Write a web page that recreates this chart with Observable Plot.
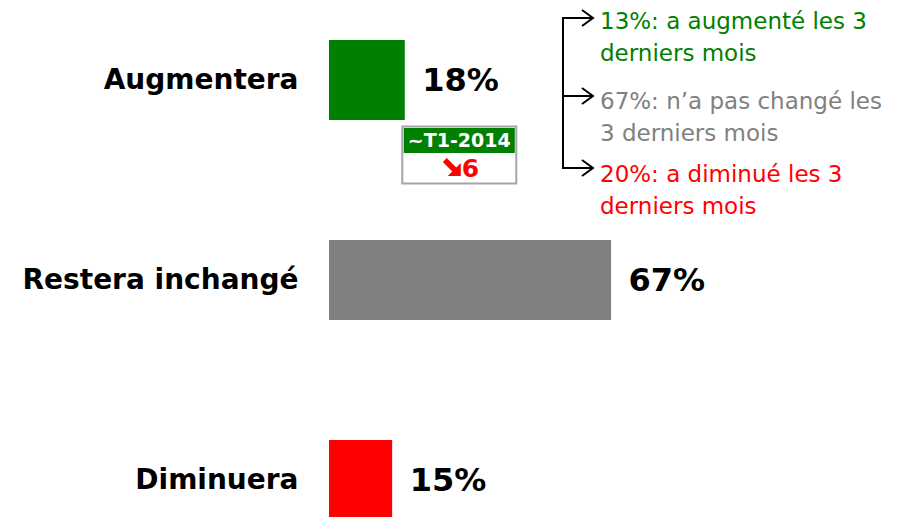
<!DOCTYPE html>
<html><head><meta charset="utf-8">
<script src="https://cdn.jsdelivr.net/npm/d3@7"></script>
<script src="https://cdn.jsdelivr.net/npm/@observablehq/plot@0.6"></script>
<style>
html,body{margin:0;padding:0;background:#fff;}
svg{display:block;}
</style>
</head><body>
<div id="chart"></div>
<script>
const categories = ["Augmentera", "Restera inchangé", "Diminuera"];
const values = [18, 67, 15];
const colors = ["#008000", "#808080", "#ff0000"];

const prevValues = [13, 67, 20];
const prevTexts = [["a augmenté les 3", "derniers mois"], ["n’a pas changé les", "3 derniers mois"], ["a diminué les 3", "derniers mois"]];

const badgeLabel = "~T1-2014";
const badgeChange = "6";

const data = categories.map((c, i) => ({cat: c, value: values[i], color: colors[i]}));
const FONT = "DejaVu Sans";

const plot = Plot.plot({
  width: 900,
  height: 517,
  marginLeft: 329,
  marginRight: 150,
  marginTop: 0,
  marginBottom: 0,
  style: {fontFamily: FONT, background: "white", overflow: "hidden"},
  x: {domain: [0, 100], axis: null},
  y: {domain: categories, range: [-20, 580], paddingInner: 0.6, paddingOuter: 0.3, align: 0.5, axis: null},
  marks: [
    Plot.barX(data, {x: "value", y: "cat", fill: "color"}),
    Plot.text(data, {x: 0, y: "cat", text: "cat", textAnchor: "end", dx: -31, fontSize: 28, fontWeight: "bold", fill: "black"}),
    Plot.text(data, {x: "value", y: "cat", text: d => d.value + "%", textAnchor: "start", dx: 17, fontSize: 32, fontWeight: "bold", fill: "black"})
  ]
});
document.getElementById("chart").appendChild(plot);

// annotations
const svg = d3.select(plot);
const xs = plot.scale("x"), ys = plot.scale("y");
const bx0 = xs.apply(values[0]) - 3;
const by0 = ys.apply(categories[0]) + ys.bandwidth + 6;
const bw = 114, bh = 57;
const g = svg.append("g").attr("font-family", FONT).attr("text-anchor", "start");
g.append("rect").attr("x", bx0 + 0.5).attr("y", by0 + 0.5).attr("width", bw).attr("height", bh)
  .attr("fill", "white").attr("stroke", "#a6a6a6").attr("stroke-width", 2);
g.append("rect").attr("x", bx0 + 2).attr("y", by0 + 2).attr("width", bw - 3).attr("height", 25).attr("fill", "#008000");
g.append("text").attr("x", bx0 + bw / 2 + 0.5).attr("y", by0 + 21).attr("text-anchor", "middle")
  .attr("font-size", 19).attr("font-weight", "bold").attr("fill", "white").text(badgeLabel);
// heavy south-east arrow + change value
const ax = bx0 + 41, ay = by0 + 32;
g.append("line").attr("x1", ax + 2).attr("y1", ay + 2).attr("x2", ax + 13).attr("y2", ay + 13)
  .attr("stroke", "#ff0000").attr("stroke-width", 5.5);
g.append("path").attr("d", `M${ax + 18},${ay + 5}L${ax + 18},${ay + 18}L${ax + 5},${ay + 18}Z`).attr("fill", "#ff0000");
g.append("text").attr("x", ax + 19).attr("y", by0 + 51)
  .attr("font-size", 25).attr("font-weight", "bold").attr("fill", "#ff0000").text(badgeChange);

// bracket notes
const noteX = 600, lineH = 32;
const noteBase = [29, 109, 182];
const arrowY = [18, 96, 168];
const bracketX = 563, tipX = 593;
g.append("line").attr("x1", bracketX).attr("x2", bracketX).attr("y1", arrowY[0] - 1).attr("y2", arrowY[2] + 1)
  .attr("stroke", "black").attr("stroke-width", 2);
arrowY.forEach(y => {
  g.append("line").attr("x1", bracketX - 1).attr("x2", tipX).attr("y1", y).attr("y2", y).attr("stroke", "black").attr("stroke-width", 2);
  g.append("path").attr("d", `M${tipX - 11},${y - 8}L${tipX},${y}L${tipX - 11},${y + 8}`).attr("fill", "none").attr("stroke", "black").attr("stroke-width", 2);
});
prevValues.forEach((v, i) => {
  prevTexts[i].forEach((t, j) => {
    g.append("text").attr("x", noteX).attr("y", noteBase[i] + j * lineH)
      .attr("font-size", 23).attr("fill", colors[i])
      .text(j === 0 ? `${v}%: ${t}` : t);
  });
});
</script>
</body></html>
